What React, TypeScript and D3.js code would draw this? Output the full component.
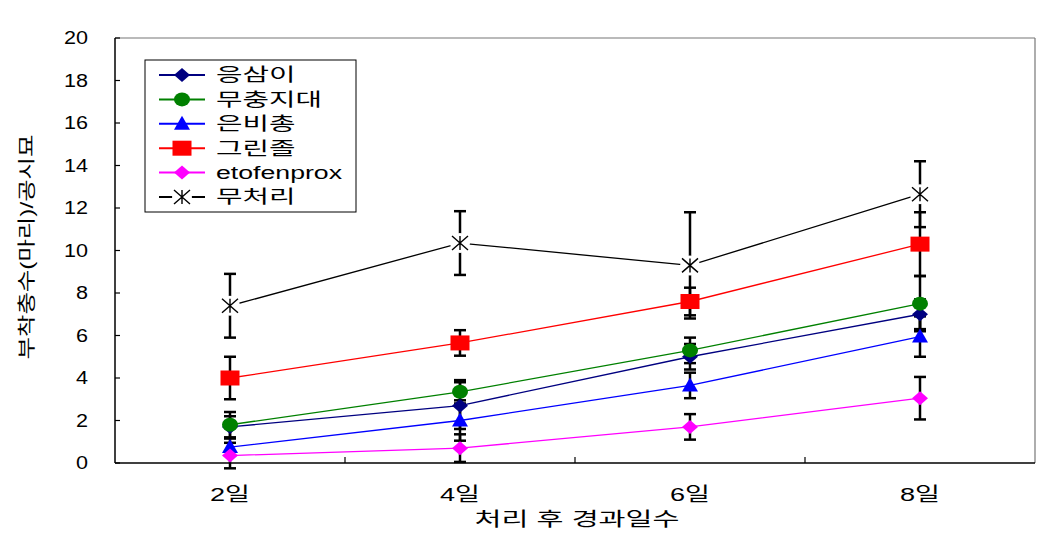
import React from "react";
import * as d3 from "d3";

const categories = ["2일", "4일", "6일", "8일"];
const seriesNames = ["응삼이", "무충지대", "은비총", "그린졸", "etofenprox", "무처리"];
const eungsami = [1.7, 2.7, 5.0, 7.0];
const eungsamiErr = [0.5, 1.1, 0.6, 0.7];
const muchung = [1.8, 3.35, 5.3, 7.5];
const muchungErr = [0.6, 0.55, 0.6, 1.3];
const eunbichong = [0.75, 2.0, 3.65, 5.95];
const eunbichongErr = [0.4, 0.95, 0.6, 0.95];
const greenzol = [4.0, 5.65, 7.6, 10.3];
const greenzolErr = [1.0, 0.6, 0.65, 1.5];
const etofenprox = [0.35, 0.7, 1.7, 3.05];
const etofenproxErr = [0.6, 0.65, 0.6, 1.0];
const untreated = [7.4, 10.35, 9.3, 12.65];
const untreatedErr = [1.5, 1.5, 2.5, 1.55];
const yTicks = [0, 2, 4, 6, 8, 10, 12, 14, 16, 18, 20];
const yTitle = "부착충수(마리)/공시묘";
const xTitle = "처리 후 경과일수";

const seriesValues = [eungsami, muchung, eunbichong, greenzol, etofenprox, untreated];
const seriesErrs = [eungsamiErr, muchungErr, eunbichongErr, greenzolErr, etofenproxErr, untreatedErr];
const colors = ["#000080", "#008000", "#0000FF", "#FF0000", "#FF00FF", "#000000"];
const shapes = ["diamond", "circle", "triangle", "square", "diamond", "asterisk"];

const FONT = "'Liberation Sans', Arial, 'Noto Sans CJK KR', sans-serif";

// approximate rendered widths in the (horizontally stretched) reference
function textWidth(s: string, k: number, d: number, l: number, sp: number, p: number) {
  let w = 0;
  for (const ch of s) {
    if (/[\uAC00-\uD7A3]/.test(ch)) w += k;
    else if (/[0-9]/.test(ch)) w += d;
    else if (ch === " ") w += sp;
    else if (/[()\/]/.test(ch)) w += p;
    else w += l;
  }
  return w;
}

function Marker({ shape, color, x, y }: { shape: string; color: string; x: number; y: number }) {
  if (shape === "diamond") {
    return <path d={`M${x},${y - 7}L${x + 8},${y}L${x},${y + 7}L${x - 8},${y}Z`} fill={color} />;
  }
  if (shape === "circle") {
    return <ellipse cx={x} cy={y} rx={8} ry={7} fill={color} />;
  }
  if (shape === "triangle") {
    return <path d={`M${x},${y - 8}L${x + 8},${y + 6}L${x - 8},${y + 6}Z`} fill={color} />;
  }
  if (shape === "square") {
    return <rect x={x - 9.5} y={y - 7.5} width={19} height={15} fill={color} />;
  }
  return (
    <g>
      <circle cx={x} cy={y} r={10} fill="#fff" />
      <path
        d={`M${x - 8},${y - 7}L${x + 8},${y + 7}M${x - 8},${y + 7}L${x + 8},${y - 7}M${x},${y - 7}L${x},${y + 7}`}
        stroke={color}
        strokeWidth={1.4}
        fill="none"
      />
    </g>
  );
}

export default function App() {
  const W = 1047;
  const H = 535;
  const left = 115;
  const right = 1035;
  const top = 38;
  const bottom = 463;

  const x = d3.scaleBand<string>().domain(categories).range([left, right]).paddingInner(0).paddingOuter(0);
  const cx = (c: string) => (x(c) as number) + x.bandwidth() / 2;
  const y = d3.scaleLinear().domain([0, 20]).range([bottom, top]);
  const line = d3
    .line<number>()
    .x((_, i) => cx(categories[i]))
    .y((v) => y(v));

  const boundaries = categories.slice(1).map((c) => x(c) as number);

  return (
    <svg width={W} height={H} style={{ position: "absolute", left: 0, top: 0, background: "#fff" }} fontFamily={FONT}>
      <rect x={0} y={0} width={W} height={H} fill="#fff" />
      <line x1={left} y1={top} x2={right} y2={top} stroke="#777" strokeWidth={1.2} />
      <line x1={right} y1={top} x2={right} y2={bottom} stroke="#777" strokeWidth={1.2} />
      <line x1={left} y1={top} x2={left} y2={bottom} stroke="#000" strokeWidth={1.5} />
      <line x1={left} y1={bottom} x2={right} y2={bottom} stroke="#000" strokeWidth={1.5} />
      {yTicks.map((t) => {
        const s = String(t);
        const w = textWidth(s, 0, 12, 0, 0, 0);
        return (
          <g key={t}>
            <line x1={left} x2={left + 5} y1={y(t)} y2={y(t)} stroke="#000" strokeWidth={1.2} />
            <text
              x={88 - w}
              y={y(t)}
              dy="0.36em"
              fontSize={18}
              fill="#000"
              textLength={w}
              lengthAdjust="spacingAndGlyphs"
            >
              {s}
            </text>
          </g>
        );
      })}
      {boundaries.map((b, i) => (
        <line key={i} x1={b} x2={b} y1={bottom} y2={bottom - 6} stroke="#000" strokeWidth={1.2} />
      ))}
      {categories.map((c) => {
        const w = textWidth(c, 26, 14, 0, 0, 0);
        return (
          <text
            key={c}
            x={cx(c) - w / 2}
            y={494}
            dy="0.35em"
            fontSize={19}
            fill="#000"
            textLength={w}
            lengthAdjust="spacingAndGlyphs"
          >
            {c}
          </text>
        );
      })}
      {(() => {
        const w = textWidth(xTitle, 26, 0, 0, 11.5, 0);
        return (
          <text
            x={577 - w / 2}
            y={519}
            dy="0.35em"
            fontSize={19}
            fill="#000"
            textLength={w}
            lengthAdjust="spacingAndGlyphs"
          >
            {xTitle}
          </text>
        );
      })()}
      {(() => {
        const w = textWidth(yTitle, 22, 0, 0, 0, 9);
        return (
          <text
            transform={`translate(27,${247 + w / 2}) rotate(-90)`}
            dy="0.35em"
            fontSize={18}
            fill="#000"
            textLength={w}
            lengthAdjust="spacingAndGlyphs"
          >
            {yTitle}
          </text>
        );
      })()}
      {seriesValues.map((vals, si) => (
        <path key={si} d={line(vals) as string} fill="none" stroke={colors[si]} strokeWidth={1.3} />
      ))}
      {seriesValues.map((vals, si) =>
        vals.map((v, i) => {
          const e = seriesErrs[si][i];
          const px = cx(categories[i]);
          const y1 = y(v + e);
          const y2 = y(v - e);
          return (
            <g key={`${si}-${i}`} stroke="#000" strokeWidth={2.5}>
              <line x1={px} x2={px} y1={y1} y2={y2} />
              <line x1={px - 6} x2={px + 6} y1={y1} y2={y1} />
              <line x1={px - 6} x2={px + 6} y1={y2} y2={y2} />
            </g>
          );
        })
      )}
      {seriesValues.map((vals, si) =>
        vals.map((v, i) => (
          <Marker key={`${si}-${i}`} shape={shapes[si]} color={colors[si]} x={cx(categories[i])} y={y(v)} />
        ))
      )}
      <rect x={145} y={60} width={211} height={152} fill="#fff" stroke="#000" strokeWidth={1} />
      {seriesNames.map((n, i) => {
        const ly = 75 + i * 24.4;
        const w = textWidth(n, 26.5, 12, 12.6, 6, 8);
        return (
          <g key={n}>
            <line x1={159} x2={205} y1={ly} y2={ly} stroke={colors[i]} strokeWidth={2} />
            <Marker shape={shapes[i]} color={colors[i]} x={182} y={ly} />
            <text x={216} y={ly} dy="0.35em" fontSize={18} fill="#000" textLength={w} lengthAdjust="spacingAndGlyphs">
              {n}
            </text>
          </g>
        );
      })}
    </svg>
  );
}
